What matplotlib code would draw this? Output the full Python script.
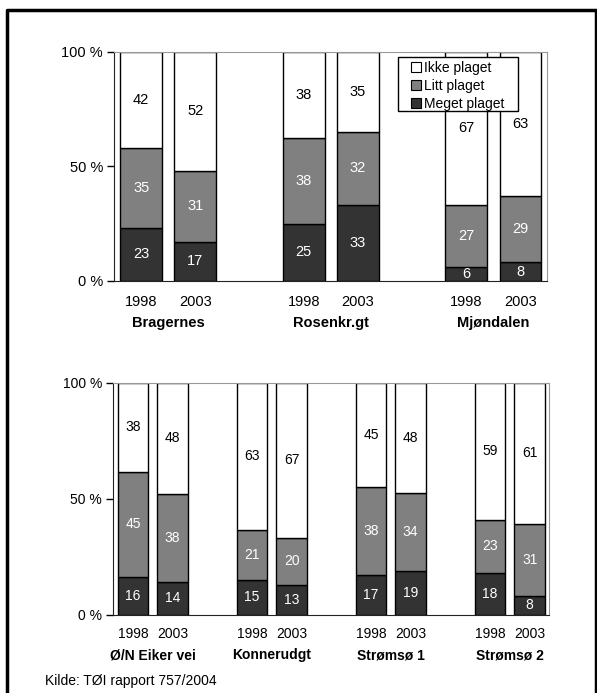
import numpy as np
import matplotlib
matplotlib.use("Agg")
import matplotlib.pyplot as plt
from matplotlib.patches import Patch, Rectangle

plt.rcParams['font.family'] = ['Liberation Sans', 'DejaVu Sans']

years = ["1998", "2003"]
series = ["Meget plaget", "Litt plaget", "Ikke plaget"]

# upper panel
places_top = ["Bragernes", "Rosenkr.gt", "Mjøndalen"]
meget_top = [23, 17, 25, 33, 6, 8]
litt_top = [35, 31, 38, 32, 27, 29]
ikke_top = [42, 52, 38, 35, 67, 63]

# lower panel
places_bot = ["Ø/N Eiker vei", "Konnerudgt", "Strømsø 1", "Strømsø 2"]
meget_bot = [16, 14, 15, 13, 17, 19, 18, 8]
litt_bot = [45, 38, 21, 20, 38, 34, 23, 31]
ikke_bot = [38, 48, 63, 67, 45, 48, 59, 61]

colors = ["#333333", "#808080", "#ffffff"]
text_colors = ["white", "white", "black"]


def draw_panel(ax, places, meget, litt, ikke, fs, year_off, name_off):
    n = len(places)
    pos = np.array([3 * g + k for g in range(n) for k in range(2)], dtype=float)
    data = np.array([meget, litt, ikke], dtype=float)
    # 100 % stacked: scale each bar to its total
    pct = data / data.sum(axis=0) * 100
    bottom = np.zeros(len(pos))
    for i in range(3):
        ax.bar(pos, pct[i], bottom=bottom, width=0.77, color=colors[i],
               edgecolor="black", linewidth=1.0, zorder=2)
        for x, b, h, v in zip(pos, bottom, pct[i], data[i]):
            ax.text(x, b + h / 2, f"{int(v)}", ha="center", va="center",
                    fontsize=fs, color=text_colors[i], zorder=3)
        bottom += pct[i]

    ax.set_ylim(0, 100)
    ax.set_xlim(-0.5, pos[-1] + 0.5)
    ax.set_yticks([0, 50, 100])
    ax.set_yticklabels(["0 %", "50 %", "100 %"], fontsize=fs)
    ax.tick_params(axis="y", direction="out", length=5, width=1, pad=3)
    ax.set_xticks([])
    for spine in ["top", "right"]:
        ax.spines[spine].set_color("#999999")
    for spine in ["left", "bottom"]:
        ax.spines[spine].set_color("#222222")

    for x in pos:
        ax.annotate(years[int(x) % 3], xy=(x, 0), xycoords=("data", "axes fraction"),
                    xytext=(0, -year_off), textcoords="offset points",
                    ha="center", va="center", fontsize=fs)
    for g, name in enumerate(places):
        ax.annotate(name, xy=(3 * g + 0.5, 0), xycoords=("data", "axes fraction"),
                    xytext=(0, -name_off), textcoords="offset points",
                    ha="center", va="center", fontsize=fs, fontweight="bold")


fig = plt.figure(figsize=(5.97, 6.93), dpi=100)
W, H = 597, 693

ax1 = fig.add_axes([0.191, 0.595, 0.726, 0.3305])
draw_panel(ax1, places_top, meget_top, litt_top, ikke_top, 10.5, 15.6, 30.8)

ax2 = fig.add_axes([0.1894, 0.113, 0.731, 0.3348])
draw_panel(ax2, places_bot, meget_bot, litt_bot, ikke_bot, 10, 14.2, 29.3)

# legend: entries without frame, box drawn separately
handles = [Patch(facecolor=colors[i], edgecolor="black", linewidth=0.8)
           for i in [2, 1, 0]]
labels = [series[i] for i in [2, 1, 0]]
leg = fig.legend(handles, labels, loc="upper left",
                 bbox_to_anchor=(411 / W, 1 - 61 / H), fontsize=10,
                 frameon=False, handlelength=0.7, handleheight=0.7,
                 handletextpad=0.25, borderpad=0, labelspacing=0.28,
                 borderaxespad=0)
leg.set_zorder(5)
fig.add_artist(Rectangle((398 / W, 1 - 111 / H), 120 / W, 54 / H,
                         transform=fig.transFigure, facecolor="white",
                         edgecolor="black", linewidth=1.0, zorder=4))

# outer frame round the figure
fig.add_artist(plt.Line2D([7 / W, 7 / W, 596 / W, 596 / W],
                          [0, 1 - 10 / H, 1 - 10 / H, 0],
                          color="black", linewidth=2.5, transform=fig.transFigure))

fig.text(45 / W, 1 - 681 / H, "Kilde: TØI rapport 757/2004",
         ha="left", va="center", fontsize=10)

fig.savefig("out.png", dpi=100)
